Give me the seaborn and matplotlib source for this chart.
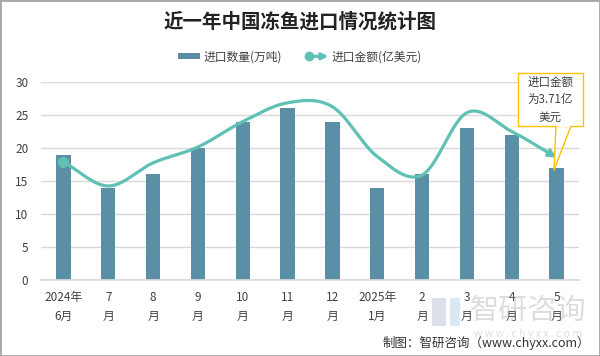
import numpy as np
import pandas as pd
import matplotlib
matplotlib.use("Agg")
import matplotlib.pyplot as plt
import seaborn as sns
from matplotlib.lines import Line2D
from matplotlib.patches import Patch, Rectangle, FancyArrowPatch
from matplotlib.legend_handler import HandlerBase

# ---------------- data ----------------
months = ["2024年\n6月", "7\n月", "8\n月", "9\n月", "10\n月", "11\n月", "12\n月",
          "2025年\n1月", "2\n月", "3\n月", "4\n月", "5\n月"]
qty = [19, 14, 16, 20, 24, 26, 24, 14, 16, 23, 22, 17]          # 进口数量(万吨)
amt = [3.58, 2.85, 3.55, 4.03, 4.80, 5.37, 5.25, 3.74, 3.18, 5.07, 4.50, 3.71]  # 进口金额(亿美元)
yticks = [0, 5, 10, 15, 20, 25, 30]
title = "近一年中国冻鱼进口情况统计图"
bar_label = "进口数量(万吨)"
line_label = "进口金额(亿美元)"
note = "进口金额\n为3.71亿\n美元"
source = "制图：智研咨询（www.chyxx.com）"

BAR_C = "#5B8FA6"
LINE_C = "#5FC0B4"
TXT_C = "#404040"

sns.set_theme(style="white")
plt.rcParams["font.family"] = ["Noto Sans CJK SC", "DejaVu Sans"]

fig = plt.figure(figsize=(6.0, 3.56), dpi=100)
W, H = 600, 356
ax = fig.add_axes([41 / W, 1 - 280 / H, (579 - 41) / W, (280 - 82) / H])

df = pd.DataFrame({"month": months, "qty": qty})
sns.barplot(data=df, x="month", y="qty", order=months, color=BAR_C,
            saturation=1, width=0.32, linewidth=0, ax=ax, zorder=2)
ax.set_xlim(-0.5, len(months) - 0.5)
ax.set_ylim(0, 30)
ax.set_yticks(yticks)
ax.set_xlabel("")
ax.set_ylabel("")
ax.grid(axis="y", color="#D9D9D9", lw=1, zorder=0)
ax.set_axisbelow(True)
for s in ["top", "right", "left"]:
    ax.spines[s].set_visible(False)
ax.spines["bottom"].set_color("#D9D9D9")
ax.tick_params(axis="both", length=0, colors=TXT_C, labelsize=8.5)
ax.tick_params(axis="x", pad=8)
ax.tick_params(axis="y", pad=9)
for lbl in ax.get_xticklabels():
    lbl.set_linespacing(1.55)

# secondary (hidden) axis for the amount line
ax2 = ax.twinx()
ax2.set_ylim(0, 6)
ax2.axis("off")


def catmull_rom(xs, ys, n=30):
    xs = np.asarray(xs, float)
    ys = np.asarray(ys, float)
    px = np.concatenate([[2 * xs[0] - xs[1]], xs, [2 * xs[-1] - xs[-2]]])
    py = np.concatenate([[2 * ys[0] - ys[1]], ys, [2 * ys[-1] - ys[-2]]])
    ox, oy = [], []
    for i in range(1, len(px) - 2):
        t = np.linspace(0, 1, n, endpoint=False)
        for arr, out in ((px, ox), (py, oy)):
            p0, p1, p2, p3 = arr[i - 1], arr[i], arr[i + 1], arr[i + 2]
            out.extend(0.5 * ((2 * p1) + (-p0 + p2) * t +
                              (2 * p0 - 5 * p1 + 4 * p2 - p3) * t ** 2 +
                              (-p0 + 3 * p1 - 3 * p2 + p3) * t ** 3))
    ox.append(xs[-1])
    oy.append(ys[-1])
    return np.array(ox), np.array(oy)


xpos = np.arange(len(amt))
sx, sy = catmull_rom(xpos, amt)
cut = len(sx) - 8
ax2.plot(sx[:cut + 1], sy[:cut + 1], color=LINE_C, lw=2.3, solid_capstyle="round", zorder=3)
ax2.add_patch(FancyArrowPatch((sx[cut], sy[cut]), (sx[-1], sy[-1]),
                              arrowstyle="-|>", mutation_scale=11, color=LINE_C,
                              lw=2.3, shrinkA=0, shrinkB=0, zorder=3))
ax2.plot([xpos[0]], [amt[0]], marker="o", ms=7, color=LINE_C, zorder=4)

# title
fig.text(0.5, 1 - 22 / H, title, ha="center", va="center", fontsize=14,
         fontweight="bold", color="#222222")


# legend with custom line handle (dot + arrow)
class DotArrowHandler(HandlerBase):
    def create_artists(self, legend, orig_handle, xdescent, ydescent,
                       width, height, fontsize, trans):
        y = height / 2 - ydescent
        x0, x1 = -xdescent + 2, width - xdescent
        arr = FancyArrowPatch((x0, y), (x1, y), arrowstyle="-|>", mutation_scale=9,
                              color=LINE_C, lw=2.3, shrinkA=0, shrinkB=0, transform=trans)
        dot = Line2D([x0], [y], marker="o", ms=6, color=LINE_C, transform=trans)
        return [arr, dot]


h_bar = Patch(facecolor=BAR_C, edgecolor="none", label=bar_label)
h_line = Line2D([], [], color=LINE_C, label=line_label)
fig.legend(handles=[h_bar, h_line], loc="center", bbox_to_anchor=(0.5, 1 - 57 / H),
           ncol=2, frameon=False, fontsize=8.5, handlelength=1.9, handleheight=0.45,
           columnspacing=2.0, handletextpad=0.3,
           handler_map={Line2D: DotArrowHandler()}, labelcolor=TXT_C)

# callout annotation
fx = lambda px: px / W
fy = lambda py: 1 - py / H
box = Rectangle((fx(518), fy(126)), fx(583) - fx(518), fy(73) - fy(126),
                transform=fig.transFigure, facecolor="white", edgecolor="#FFC000",
                lw=1.0, zorder=5)
fig.add_artist(box)
fig.add_artist(Line2D([fx(556), fx(554)], [fy(126), fy(170)], transform=fig.transFigure,
                      color="#FFC000", lw=1.0, zorder=6))
fig.add_artist(Line2D([fx(571), fx(554)], [fy(126), fy(170)], transform=fig.transFigure,
                      color="#FFC000", lw=1.0, zorder=6))
fig.add_artist(Line2D([fx(557), fx(570)], [fy(126), fy(126)], transform=fig.transFigure,
                      color="white", lw=1.4, zorder=6))
fig.text(fx(550.5), fy(99.5), note, ha="center", va="center", fontsize=8.3,
         color=TXT_C, linespacing=1.45, zorder=7)

# watermark (sits behind the tick labels, as in the reference)
fig.text(fx(528), fy(311), "智研咨询", ha="center", va="center", fontsize=21,
         color="#9AA0A8", alpha=0.35, zorder=1)
fig.text(fx(528), fy(334), "w w w . c h y x x . c o m", ha="center", va="center",
         fontsize=7.5, color="#9AA0A8", alpha=0.35, zorder=1)
fig.add_artist(Rectangle((fx(432), fy(326)), 14 / W, 28 / H, transform=fig.transFigure,
                         facecolor="#8A9AB8", alpha=0.3, edgecolor="none"))
fig.add_artist(Rectangle((fx(450), fy(326)), 10 / W, 28 / H, transform=fig.transFigure,
                         facecolor="#7FB8E0", alpha=0.3, edgecolor="none"))

# source
fig.text(fx(590), fy(343), source, ha="right", va="center", fontsize=9, color="#333333")

# outer frame
fig.add_artist(Rectangle((0, 0), 1, 1, transform=fig.transFigure, fill=False,
                         edgecolor="#A6A6A6", lw=2))

fig.savefig("out.png", dpi=100)
